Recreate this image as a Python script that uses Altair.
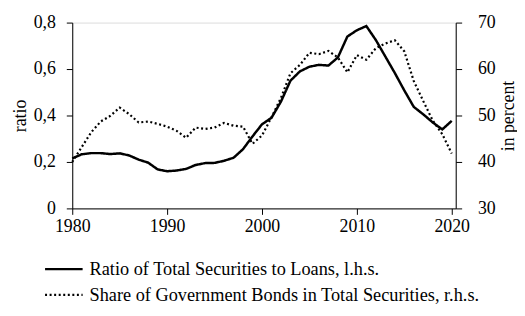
import altair as alt
import pandas as pd

years = list(range(1980, 2021))
ratio = [0.215, 0.233, 0.238, 0.238, 0.234, 0.237, 0.228, 0.21, 0.197, 0.168,
         0.16, 0.163, 0.17, 0.187, 0.195, 0.196, 0.205, 0.218, 0.255, 0.31,
         0.362, 0.39, 0.46, 0.55, 0.59, 0.61, 0.618, 0.615, 0.65, 0.74,
         0.767, 0.785, 0.725, 0.654, 0.583, 0.508, 0.437, 0.405, 0.37, 0.34, 0.377]
share = [40.0, 43.2, 46.4, 48.7, 49.9, 51.7, 50.3, 48.5, 48.7, 48.2,
         47.6, 46.7, 45.2, 47.4, 47.1, 47.4, 48.4, 47.8, 47.6, 43.9,
         45.7, 49.6, 53.8, 59.1, 60.9, 63.5, 63.2, 63.9, 62.5, 59.3,
         63.0, 62.0, 64.5, 65.5, 66.2, 63.8, 57.4, 53.1, 48.9, 46.0, 41.8]

names = ["Ratio of Total Securities to Loans, l.h.s.",
         "Share of Government Bonds in Total Securities, r.h.s."]

df1 = pd.DataFrame({"year": years, "value": ratio, "series": names[0]})
df2 = pd.DataFrame({"year": years, "value": share, "series": names[1]})

FONT = "Liberation Serif"
FS = 18

x = alt.X("year:Q", scale=alt.Scale(domain=[1980, 2020.42], nice=False, zero=False),
          axis=alt.Axis(values=[1980, 1990, 2000, 2010, 2020], format="d", title=None,
                        grid=False, labelFontSize=FS, labelPadding=3, tickSize=6,
                        labelFlush=False, domainColor="black", tickColor="black",
                        labelColor="black", labelFont=FONT))

dash = alt.StrokeDash("series:N",
                      scale=alt.Scale(domain=names, range=[[1, 0], [2, 2.6]]),
                      legend=alt.Legend(title=None, orient="none", legendX=-19.5, legendY=238.5,
                                        direction="vertical", symbolType="M-2,0L2,0",
                                        symbolSize=361, symbolStrokeWidth=2.2,
                                        symbolStrokeColor="black",
                                        labelFontSize=18.5, labelFont=FONT, labelColor="black",
                                        rowPadding=5, labelOffset=15, labelLimit=500,
                                        padding=0))

left = alt.Chart(df1).mark_line(color="black", strokeWidth=2.5).encode(
    x=x,
    y=alt.Y("value:Q", scale=alt.Scale(domain=[0, 0.8], nice=False),
            axis=alt.Axis(values=[0, 0.2, 0.4, 0.6, 0.8], title="ratio", grid=False,
                          labelExpr="datum.value == 0 ? '0' : replace(format(datum.value, '.1f'), '.', ',')",
                          labelFontSize=FS, titleFontSize=FS, titleFontWeight="normal",
                          titleFont=FONT, labelFont=FONT, tickSize=6, labelPadding=11,
                          domainColor="black", tickColor="black", labelColor="black",
                          titleColor="black", titlePadding=4)),
    strokeDash=dash,
)

right = alt.Chart(df2).mark_line(color="black", strokeWidth=2.2).encode(
    x=x,
    y=alt.Y("value:Q", scale=alt.Scale(domain=[30, 70], nice=False, zero=False),
            axis=alt.Axis(values=[30, 40, 50, 60, 70], title="in percent", orient="right",
                          grid=False, labelFontSize=FS, titleFontSize=FS,
                          titleFontWeight="normal", titleFont=FONT, labelFont=FONT,
                          tickSize=6, labelPadding=16, titleAngle=270, titleBaseline="top",
                          domainColor="black", tickColor="black", labelColor="black",
                          titleColor="black", titlePadding=4)),
    strokeDash=dash,
)

chart = alt.layer(left, right).resolve_scale(y="independent").properties(
    width=388, height=188,
    autosize=alt.AutoSizeParams(type="none"),
    padding={"left": 65, "top": 13, "right": 62, "bottom": 99},
).configure_view(stroke=None).configure(font=FONT)

chart.save("out.html", embed_options={"renderer": "svg", "actions": False})
